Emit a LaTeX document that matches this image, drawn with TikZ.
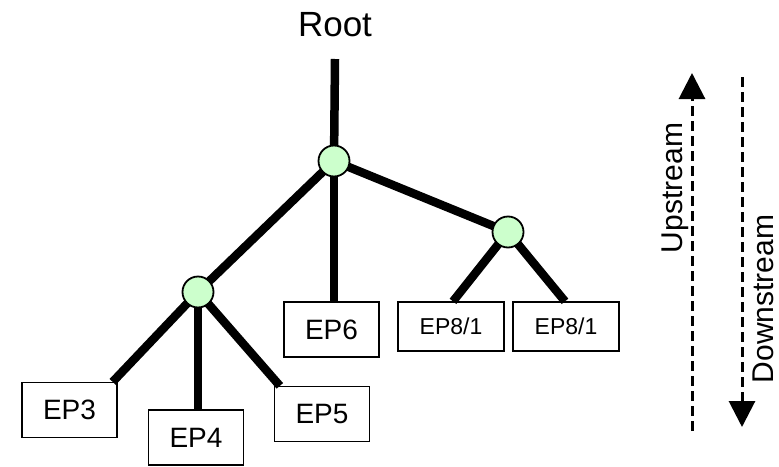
\documentclass[tikz,border=0pt]{standalone}
\usepackage{fontspec}
\setmainfont{Liberation Sans}
\usetikzlibrary{arrows.meta}
\definecolor{nodegreen}{HTML}{CCFFCC}
\begin{document}
\begin{tikzpicture}[x=1pt,y=-1pt,
  branch/.style={line width=8.5pt},
  junction/.style={circle,draw=black,fill=nodegreen,line width=1.8pt,minimum size=31pt,inner sep=0pt},
  epbox/.style={draw=black,line width=1.3pt,minimum width=95pt,minimum height=55pt,inner sep=0pt,text depth=0pt,font=\fontsize{28}{30}\selectfont},
  epsmall/.style={draw=black,line width=1.3pt,minimum width=106pt,minimum height=49pt,inner sep=0pt,text depth=0pt,font=\fontsize{23}{25}\selectfont},
  flow/.style={line width=3pt,dash pattern=on 10pt off 5pt,-{Triangle[length=26pt,width=26pt]}},
  flowlabel/.style={rotate=90,inner sep=0pt,text depth=0pt,font=\fontsize{30}{32}\selectfont}
]
\useasboundingbox (0,0) rectangle (779,466);

% labels and leaves
\node[inner sep=0pt,text depth=0pt,font=\fontsize{35}{37}\selectfont] (root) at (335,24.5) {Root};
\coordinate (rootend) at (335,59);

\node[epbox] (ep3) at (69.5,410) {EP3};
\node[epbox] (ep4) at (196,437.5) {EP4};
\node[epbox] (ep5) at (322,414) {EP5};
\node[epbox] (ep6) at (331.5,329.5) {EP6};
\node[epsmall] (ep8a) at (451,326.5) {EP8/1};
\node[epsmall] (ep8b) at (566,326.5) {EP8/1};

% junction positions
\coordinate (ctop) at (334,161);
\coordinate (cleft) at (198,292);
\coordinate (cright) at (508,232);

% branches
\draw[branch] (rootend) -- (ctop);
\draw[branch] (ctop) -- (cleft);
\draw[branch] (ctop) -- (cright);
\draw[branch] (ctop) -- (ctop |- ep6.north);
\draw[branch] (cleft) -- ([xshift=-5pt]ep3.north east);
\draw[branch] (cleft) -- (cleft |- ep4.north);
\draw[branch] (cleft) -- ([xshift=6pt]ep5.north west);
\draw[branch] (cright) -- ([xshift=2pt]ep8a.north);
\draw[branch] (cright) -- ([xshift=-1pt]ep8b.north);

% junction circles
\node[junction] (jtop) at (ctop) {};
\node[junction] (jleft) at (cleft) {};
\node[junction] (jright) at (cright) {};

% direction arrows
\coordinate (upstart) at (692,431);
\coordinate (upend) at (692,73);
\coordinate (downstart) at (742,77);
\coordinate (downend) at (742,427);
\draw[flow] (upstart) -- (upend);
\draw[flow] (downstart) -- (downend);
\node[flowlabel] (uplabel) at (672.5,188) {Upstream};
\node[flowlabel] (downlabel) at (763.5,299) {Downstream};
\end{tikzpicture}
\end{document}
